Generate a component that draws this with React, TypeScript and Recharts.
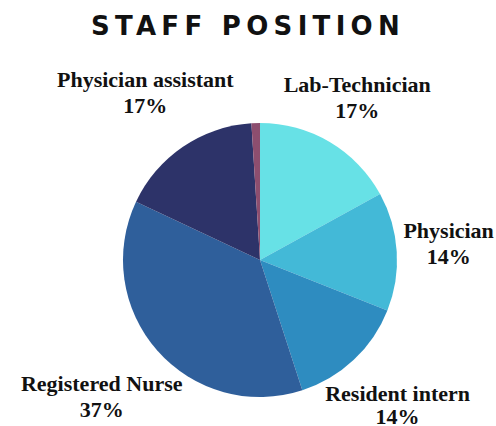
import { PieChart, Pie, Cell } from 'recharts';

const positions = ['Lab-Technician', 'Physician', 'Resident intern', 'Registered Nurse', 'Physician assistant', 'Other'];
const shares = [17, 14, 14, 37, 17, 1];
const shareLabels = ['17%', '14%', '14%', '37%', '17%', ''];
const sliceColors = ['#67E1E6', '#43B9D7', '#2E8CC0', '#2F5F9B', '#2D3369', '#8D4E6F'];

const data = positions.map((name, i) => ({ name, value: shares[i], pct: shareLabels[i] }));

// label distance beyond the rim and small vertical nudge, per slice
const labelGap = [54, 52, 64, 74, 67, 0];
const labelNudge = [0, -6, -2, -5, 0, 0];

const RAD = Math.PI / 180;

function renderLabel(props: any) {
  const { cx, cy, midAngle, outerRadius, index } = props;
  if (!shareLabels[index]) return null;
  const r = outerRadius + labelGap[index];
  const x = cx + r * Math.cos(-midAngle * RAD);
  const y = cy + r * Math.sin(-midAngle * RAD) + labelNudge[index];
  return (
    <text
      x={x}
      y={y}
      textAnchor="middle"
      fill="#111"
      style={{ fontFamily: '"Liberation Serif", serif', fontWeight: 700, fontSize: 22 }}
    >
      <tspan x={x} dy={-4}>{positions[index]}</tspan>
      <tspan x={x} dy={index === 2 ? 23 : 26}>{shareLabels[index]}</tspan>
    </text>
  );
}

export default function App() {
  return (
    <div style={{ position: 'relative', width: 496, height: 426, background: '#fff' }}>
      <style>{`body{margin:0}`}</style>
      <div
        style={{
          position: 'absolute',
          top: 11,
          left: 0,
          width: 496,
          textAlign: 'center',
          fontFamily: '"DejaVu Sans", sans-serif',
          fontWeight: 700,
          fontSize: 26,
          letterSpacing: 5.3,
          color: '#111',
        }}
      >
        STAFF POSITION
      </div>
      <PieChart width={496} height={426} style={{ position: 'absolute', top: 0, left: 0 }}>
        <Pie
          data={data}
          dataKey="value"
          nameKey="name"
          cx={255}
          cy={255}
          outerRadius={137}
          startAngle={90}
          endAngle={-270}
          stroke="none"
          labelLine={false}
          label={renderLabel}
          isAnimationActive={false}
        >
          {data.map((d, i) => (
            <Cell key={d.name} fill={sliceColors[i]} />
          ))}
        </Pie>
      </PieChart>
    </div>
  );
}
